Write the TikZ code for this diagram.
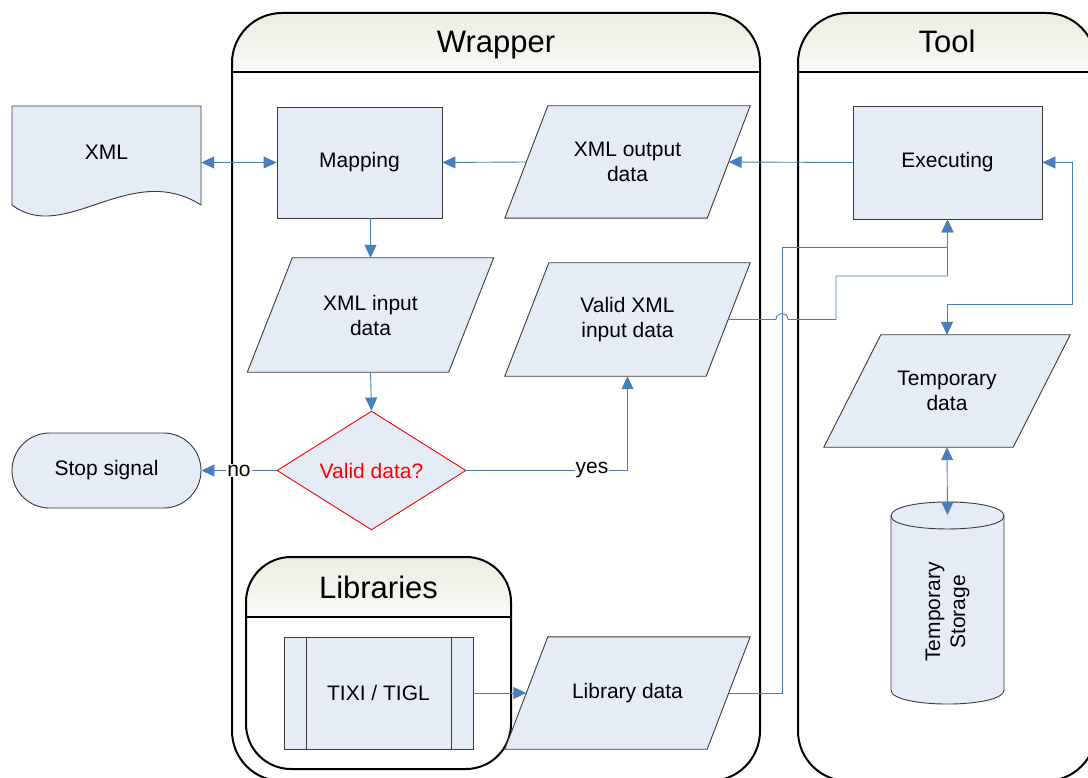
\documentclass[tikz,border=0pt]{standalone}
\usepackage{fontspec}
\setmainfont{Liberation Sans}
\usetikzlibrary{shapes.geometric,arrows.meta}
\definecolor{boxfill}{HTML}{E6ECF6}
\definecolor{conncol}{HTML}{4A7EBB}
\definecolor{boxline}{HTML}{3A3A3A}
\definecolor{headtop}{HTML}{ECECE1}
\definecolor{headbot}{HTML}{FAFAF7}
\pgfdeclarelayer{lanes}
\pgfdeclarelayer{shapes}
\pgfsetlayers{lanes,shapes,main}
\tikzset{
  outline/.style={draw=boxline, fill=boxfill, line width=0.9pt},
  box/.style={outline, inner sep=0pt, align=center},
  procbox/.style={box, rectangle},
  iotext/.style={inner sep=0pt, align=center, minimum width=202pt, minimum height=112pt},
  conn/.style={draw=conncol, line width=0.9pt, -{Triangle[length=13pt,width=12pt]}},
  connboth/.style={draw=conncol, line width=0.9pt,
    {Triangle[length=13pt,width=12pt]}-{Triangle[length=13pt,width=12pt]}},
  lane/.style={draw=black, line width=2pt},
  header/.style={top color=headtop, bottom color=headbot},
  lbl/.style={fill=white, inner sep=1pt},
  every node/.style={font=\fontsize{21}{25}\selectfont},
  lanetitle/.style={font=\fontsize{31}{36}\selectfont},
}
% parallelogram behind a text node: #1 node name, #2 half of the slant
\newcommand\ioshape[2]{%
  \begin{pgfonlayer}{shapes}
    \filldraw[outline] ([xshift=-#2]#1.south west) -- ([xshift=#2]#1.north west)
      -- ([xshift=#2]#1.north east) -- ([xshift=-#2]#1.south east) -- cycle;
  \end{pgfonlayer}}
\begin{document}
\begin{tikzpicture}[x=1pt, y=-1pt]
\useasboundingbox (0,0) rectangle (1088,778);
\clip (0,0) rectangle (1088,778);

% ---------- swimlanes ----------
\begin{pgfonlayer}{lanes}
% Wrapper
\begin{scope}
  \clip[rounded corners=50pt] (496,13) -- (760,13) -- (760,781) -- (232,781) -- (232,13) -- cycle;
  \shade[header] (232,13) rectangle (760,72);
\end{scope}
\draw[lane, rounded corners=50pt] (496,13) -- (760,13) -- (760,781) -- (232,781) -- (232,13) -- cycle;
\draw[lane] (232,72) -- (760,72);
\node[lanetitle] (wraptitle) at (496,45) {Wrapper};

% Tool
\begin{scope}
  \clip[rounded corners=50pt] (947,13) -- (1096,13) -- (1096,781) -- (798,781) -- (798,13) -- cycle;
  \shade[header] (798,13) rectangle (1096,72);
\end{scope}
\draw[lane, rounded corners=50pt] (947,13) -- (1096,13) -- (1096,781) -- (798,781) -- (798,13) -- cycle;
\draw[lane] (798,72) -- (1096,72);
\node[lanetitle] (tooltitle) at (947,41) {Tool};

% Libraries
\begin{scope}
  \clip[rounded corners=45pt] (378,557) -- (511,557) -- (511,769) -- (246,769) -- (246,557) -- cycle;
  \shade[header] (246,557) rectangle (511,617);
\end{scope}
\draw[lane, rounded corners=45pt] (378,557) -- (511,557) -- (511,769) -- (246,769) -- (246,557) -- cycle;
\draw[lane] (246,617) -- (511,617);
\node[lanetitle] (libtitle) at (378.5,587) {Libraries};
\end{pgfonlayer}

% ---------- nodes ----------
% XML document
\node[minimum width=189pt, minimum height=99pt, inner sep=0pt] (xml) at (106.5,155.5) {\raisebox{6.5pt}{XML}};
\begin{pgfonlayer}{shapes}
\filldraw[outline]
  (12,205) -- (12,106) -- (201,106) -- (201,205)
  .. controls (130,160) and (65,245) .. (12,205) -- cycle;
\end{pgfonlayer}

\node[procbox, minimum width=165pt, minimum height=111pt] (map) at (359.5,162.5) {Mapping};
\node[procbox, minimum width=189pt, minimum height=113pt] (exec) at (947.5,162.5) {Executing};

\node[iotext] (xout) at (627.5,162) {XML output\\data};
\ioshape{xout}{21.5pt}
\node[iotext, minimum width=201pt, minimum height=114pt] (xin) at (370.5,315) {XML input\\data};
\ioshape{xin}{22.5pt}
\node[iotext, minimum width=201pt, minimum height=113pt] (vxml) at (627.5,319.5) {Valid XML\\input data};
\ioshape{vxml}{22pt}
\node[iotext, minimum width=189pt] (tmp) at (947,391) {Temporary\\data};
\ioshape{tmp}{28.5pt}
\node[iotext] (libd) at (627.5,693) {Library data};
\ioshape{libd}{21.5pt}

\node[box, diamond, minimum width=189pt, minimum height=113pt, draw=red, text=red] (valid) at (371.5,470.5) {Valid data?};
\node[procbox, rounded corners=37.5pt, minimum width=189pt, minimum height=75pt] (stop) at (106.5,470.5) {Stop signal};

% predefined process
\node[procbox, minimum width=189pt, minimum height=112pt] (lib) at (378.5,693) {TIXI / TIGL};
\draw[draw=boxline, line width=0.9pt] ([xshift=23pt]lib.north west) -- ([xshift=23pt]lib.south west);
\draw[draw=boxline, line width=0.9pt] ([xshift=-22pt]lib.north east) -- ([xshift=-22pt]lib.south east);

% storage cylinder
\node[rotate=90, align=center] (stor) at (947.5,612) {Temporary\\Storage};
\begin{pgfonlayer}{shapes}
\filldraw[outline]
  (891,516) -- (891,690) .. controls (891,708.7) and (1004,708.7) .. (1004,690)
  -- (1004,516) .. controls (1004,497.3) and (891,497.3) .. (891,516) -- cycle;
\draw[draw=boxline, line width=0.9pt] (891,516) .. controls (891,533.3) and (1004,533.3) .. (1004,516);
\end{pgfonlayer}
\coordinate (stortop) at (947.5,515);

% ---------- connectors ----------
\draw[connboth] (xml.east |- map.west) -- (map.west);
\draw[conn] (xout.west) -- (map.east);
\draw[conn] (exec.west) -- (xout.east);
\draw[conn] (xin.north |- map.south) -- (xin.north);
\draw[conn] (xin.south) -- (valid.north);
\draw[conn] (valid.west) -- node[lbl] (nolbl) {no} (stop.east);
\draw[conn] (valid.east) -| node[lbl, pos=0.39] (yeslbl) {yes} (vxml.south);
\draw[conn] (lib.east) -- (libd.west);

% library data up to the tool
\coordinate (bend1) at (782,247);
\draw[conn] (libd.east) -| (bend1) -| (exec.south);

% validated input up to the tool, hopping over the line above
\coordinate (hopa) at (776,319.5);
\coordinate (hopb) at (788,319.5);
\coordinate (bend2) at (836,276);
\draw[conn] (vxml.east) -- (hopa) .. controls (776,311.5) and (788,311.5) .. (hopb)
  -- (836,319.5) -- (bend2) -| (exec.south);

% executing <-> temporary data
\coordinate (bend3) at (1072,304);
\draw[connboth] (exec.east) -| (bend3) -| (tmp.north);

% temporary data <-> storage
\draw[connboth] (tmp.south) -- (stortop);
\end{tikzpicture}
\end{document}
